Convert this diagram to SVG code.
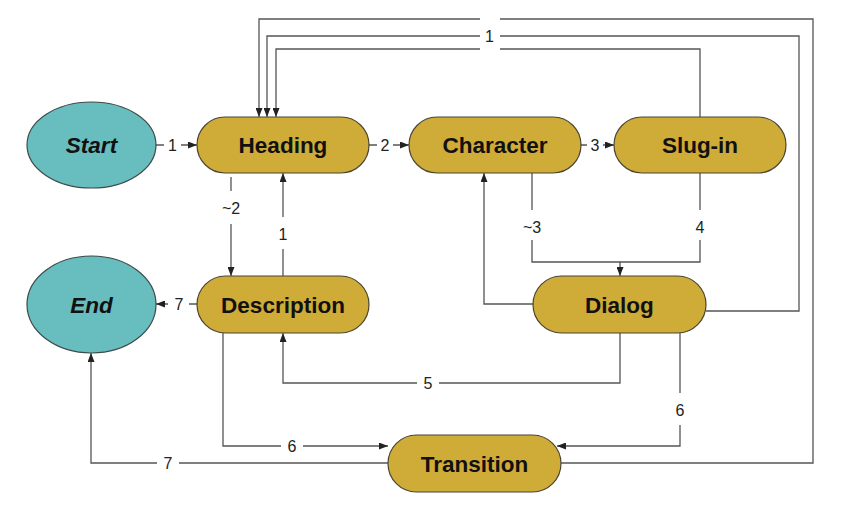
<svg xmlns="http://www.w3.org/2000/svg" width="849" height="515" viewBox="0 0 849 515">
<style>
.term{fill:#68BDBE;stroke:#3d4a4a;stroke-width:1.2}
.state{fill:#CFAB38;stroke:#4a4533;stroke-width:1.2}
.nt{font-family:"Liberation Sans",Arial,sans-serif;font-weight:bold;font-size:22.5px;fill:#111;text-anchor:middle}
.it{font-style:italic}
.edge{fill:none;stroke:#555;stroke-width:1.3}
.lbg{fill:#fff;stroke:none}
.lb{font-family:"Liberation Sans",Arial,sans-serif;font-size:16px;fill:#222;text-anchor:middle}
</style>
<defs>
<marker id="ah" viewBox="0 0 9 7" refX="9" refY="3.5" markerWidth="9" markerHeight="7" markerUnits="userSpaceOnUse" orient="auto">
<path d="M0,0 L9,3.5 L0,7 z" fill="#222"/>
</marker>
</defs>
<rect width="849" height="515" fill="#fff"/>
<g id="connectors">
<path class="edge" d="M156,145 H197" marker-end="url(#ah)"/>
<path class="edge" d="M369,145 H409" marker-end="url(#ah)"/>
<path class="edge" d="M581,145 H614" marker-end="url(#ah)"/>
<path class="edge" d="M561,463 H813 V19 H259 V117" marker-end="url(#ah)"/>
<path class="edge" d="M706,311 H799 V36 H267 V117" marker-end="url(#ah)"/>
<path class="edge" d="M700,117 V49 H276 V117" marker-end="url(#ah)"/>
<path class="edge" d="M231,177 V276" marker-end="url(#ah)"/>
<path class="edge" d="M283,276 V173" marker-end="url(#ah)"/>
<path class="edge" d="M197,304 H156" marker-end="url(#ah)"/>
<path class="edge" d="M223,333 V446 H388" marker-end="url(#ah)"/>
<path class="edge" d="M388,463 H91 V353" marker-end="url(#ah)"/>
<path class="edge" d="M620,333 V383 H283 V333" marker-end="url(#ah)"/>
<path class="edge" d="M680,333 V446 H557" marker-end="url(#ah)"/>
<path class="edge" d="M533,304 H484 V173" marker-end="url(#ah)"/>
<path class="edge" d="M532,173 V262 H620 V276" marker-end="url(#ah)"/>
<path class="edge" d="M700,173 V262 H620"/>
<rect class="lbg" x="164" y="136" width="17" height="18"/><text class="lb" x="172.5" y="151">1</text>
<rect class="lbg" x="377" y="136" width="16" height="18"/><text class="lb" x="385" y="151">2</text>
<rect class="lbg" x="587" y="136" width="16" height="18"/><text class="lb" x="595" y="151">3</text>
<rect class="lbg" x="480" y="13" width="20" height="42"/><text class="lb" x="489.5" y="42">1</text>
<rect class="lbg" x="221" y="191" width="22" height="33"/><text class="lb" x="231" y="214">~2</text>
<rect class="lbg" x="275" y="217" width="16" height="32"/><text class="lb" x="283" y="240">1</text>
<rect class="lbg" x="168" y="295" width="21" height="18"/><text class="lb" x="179" y="310">7</text>
<rect class="lbg" x="281" y="437" width="22" height="18"/><text class="lb" x="292" y="452">6</text>
<rect class="lbg" x="157" y="454" width="22" height="18"/><text class="lb" x="168" y="469">7</text>
<rect class="lbg" x="417" y="374" width="22" height="18"/><text class="lb" x="428" y="389">5</text>
<rect class="lbg" x="670" y="393" width="20" height="32"/><text class="lb" x="680" y="416">6</text>
<rect class="lbg" x="520" y="210" width="24" height="30"/><text class="lb" x="532" y="233">~3</text>
<rect class="lbg" x="690" y="210" width="20" height="30"/><text class="lb" x="700" y="233">4</text>
</g>
<g id="start"><ellipse class="term" cx="91.5" cy="145" rx="64.5" ry="43"/><text class="nt it" x="91.5" y="153">Start</text></g>
<g id="end"><ellipse class="term" cx="91.5" cy="304.5" rx="64.5" ry="48.5"/><text class="nt it" x="91.5" y="312.5">End</text></g>
<g id="heading"><rect class="state" x="197" y="117" width="172" height="56" rx="28"/><text class="nt" x="283" y="153">Heading</text></g>
<g id="character"><rect class="state" x="409" y="117" width="172" height="56" rx="28"/><text class="nt" x="495" y="153">Character</text></g>
<g id="slugin"><rect class="state" x="614" y="117" width="172" height="56" rx="28"/><text class="nt" x="700" y="153">Slug-in</text></g>
<g id="description"><rect class="state" x="197" y="276" width="172" height="57" rx="28.5"/><text class="nt" x="283" y="312.5">Description</text></g>
<g id="dialog"><rect class="state" x="533" y="276" width="173" height="57" rx="28.5"/><text class="nt" x="619.5" y="312.5">Dialog</text></g>
<g id="transition"><rect class="state" x="388" y="435" width="173" height="57" rx="28.5"/><text class="nt" x="474.5" y="471.5">Transition</text></g>
</svg>
